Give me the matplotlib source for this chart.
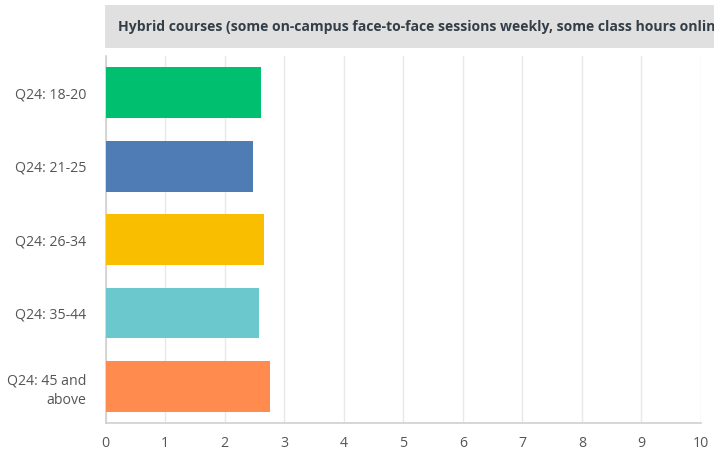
import matplotlib
matplotlib.use("Agg")
import matplotlib.pyplot as plt
from matplotlib.patches import Rectangle

categories = ["Q24: 18-20", "Q24: 21-25", "Q24: 26-34", "Q24: 35-44", "Q24: 45 and\nabove"]
values = [2.61, 2.48, 2.66, 2.58, 2.76]
colors = ["#00BF6F", "#507CB6", "#F9BE00", "#6BC8CD", "#FF8B4F"]
xticks = list(range(0, 11))
title = "Hybrid courses (some on-campus face-to-face sessions weekly, some class hours online)"

plt.rcParams['font.family'] = ['Open Sans', 'DejaVu Sans']

W, H = 714, 457
fig = plt.figure(figsize=(W / 100, H / 100), dpi=100)

# title band
fig.patches.append(Rectangle((105 / W, 1 - 47.7 / H), 1 - 105 / W, (47.7 - 5) / H,
                             transform=fig.transFigure, facecolor="#e0e0e0",
                             edgecolor="none", zorder=0))
fig.text(118 / W, 1 - 26.5 / H, title, fontsize=10.1, fontweight="bold",
         color="#333e48", va="center", ha="left", clip_on=False)

ax = fig.add_axes([105.7 / W, 1 - 423.3 / H, (701 - 105.7) / W, (423.3 - 56) / H])
ypos = list(range(len(categories)))
ax.barh(ypos, values, height=0.69, color=colors, zorder=3)
ax.set_ylim(len(categories) - 0.5, -0.5)
ax.set_xlim(0, 10)
ax.set_xticks(xticks)
ax.set_xticklabels([str(t) for t in xticks], fontsize=10.2, color="#555555")
ax.set_yticks(ypos)
ax.set_yticklabels(categories, fontsize=10.2, color="#555555", multialignment="right",
                   linespacing=1.4)
ax.tick_params(axis="both", length=0)
ax.tick_params(axis="x", pad=9)
ax.tick_params(axis="y", pad=14)
ax.grid(axis="x", color="#e8e8e8", linewidth=1, zorder=0)
ax.set_axisbelow(True)
for s in ["top", "right"]:
    ax.spines[s].set_visible(False)
for s in ["left", "bottom"]:
    ax.spines[s].set_color("#d0d0d0")
    ax.spines[s].set_linewidth(1.2)

fig.savefig("out.png", dpi=100)
